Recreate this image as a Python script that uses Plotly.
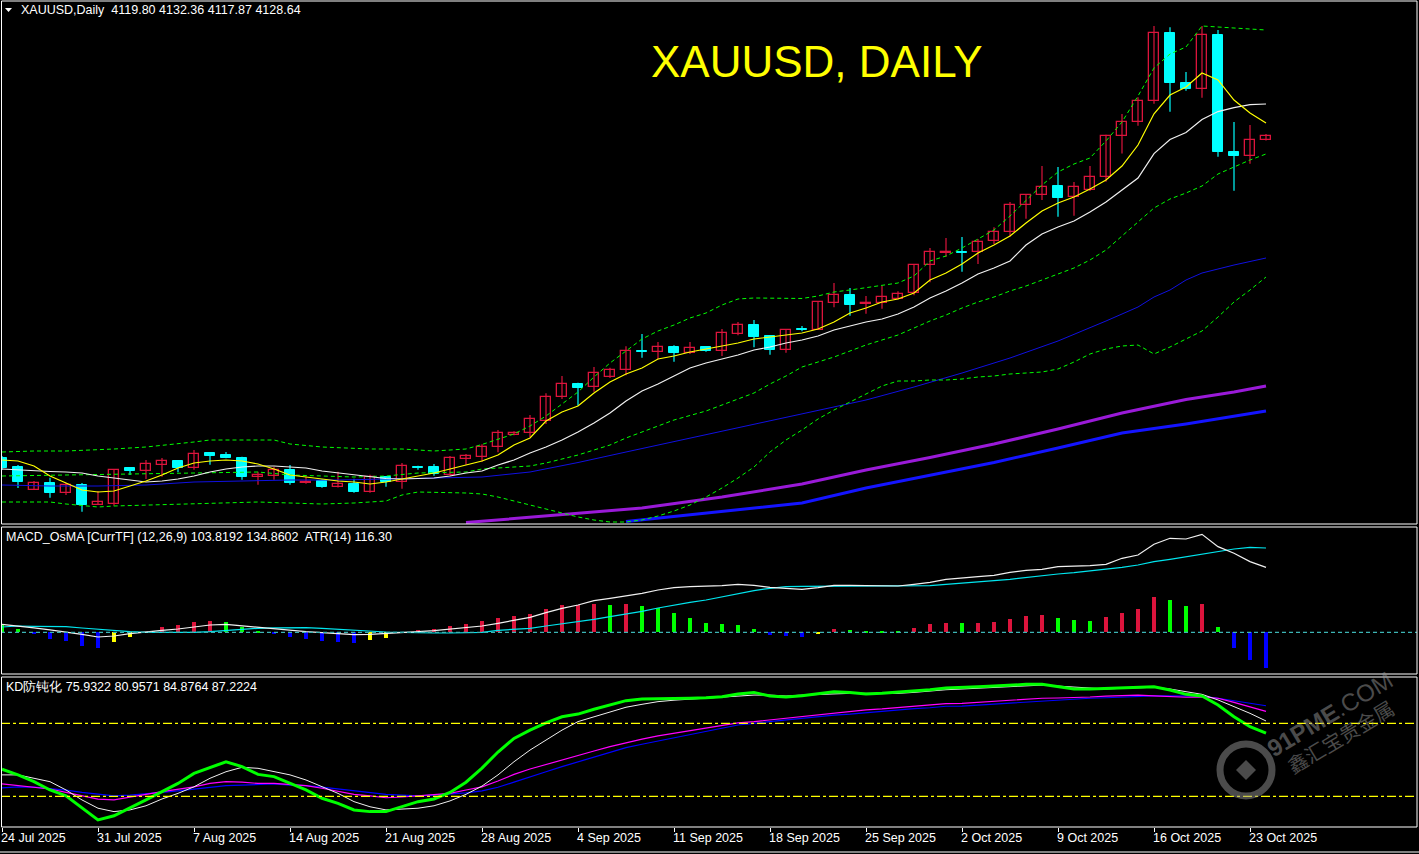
import plotly.graph_objects as go

# ---------------- DATA ----------------
tick_labels = ["24 Jul 2025", "31 Jul 2025", "7 Aug 2025", "14 Aug 2025", "21 Aug 2025",
               "28 Aug 2025", "4 Sep 2025", "11 Sep 2025", "18 Sep 2025", "25 Sep 2025",
               "2 Oct 2025", "9 Oct 2025", "16 Oct 2025", "23 Oct 2025"]
tick_bars = [0, 6, 12, 18, 24, 30, 36, 42, 48, 54, 60, 66, 72, 78]

opens = [3387.4, 3366.7, 3314.5, 3329.9, 3307.6, 3325.3, 3280.0, 3282.3, 3364.4, 3358.2,
         3372.0, 3380.5, 3365.1, 3398.9, 3394.3, 3387.4, 3344.4, 3346.7, 3360.5, 3330.6,
         3334.5, 3321.4, 3328.3, 3309.9, 3344.4, 3332.9, 3367.4, 3366.7, 3349.0, 3385.8,
         3390.4, 3412.0, 3441.0, 3444.2, 3473.2, 3527.0, 3556.9, 3550.0, 3574.4, 3589.1,
         3633.5, 3630.5, 3642.0, 3628.2, 3642.0, 3634.2, 3673.3, 3692.6, 3667.3, 3636.5,
         3684.1, 3682.5, 3744.6, 3762.3, 3740.9, 3743.2, 3753.8, 3766.2, 3830.6, 3859.6,
         3861.2, 3860.5, 3885.8, 3906.5, 3968.6, 3991.6, 4013.0, 3987.0, 4003.1, 4033.0,
         4127.3, 4159.5, 4207.8, 4364.2, 4249.2, 4235.4, 4361.0, 4090.5, 4082.7, 4119.80]
highs = [3392.0, 3371.3, 3334.5, 3342.1, 3329.9, 3329.9, 3311.5, 3359.8, 3366.7, 3382.8,
         3387.4, 3382.8, 3405.8, 3401.2, 3401.2, 3390.4, 3355.9, 3367.4, 3371.3, 3344.4,
         3338.0, 3355.9, 3339.8, 3349.0, 3346.0, 3375.9, 3369.7, 3373.6, 3392.0, 3396.6,
         3418.9, 3451.8, 3448.8, 3486.3, 3536.2, 3576.0, 3560.6, 3596.7, 3595.1, 3644.3,
         3672.6, 3654.2, 3646.6, 3654.2, 3644.3, 3684.1, 3700.2, 3704.8, 3670.3, 3684.1,
         3691.0, 3746.2, 3789.9, 3778.4, 3760.0, 3783.7, 3770.8, 3833.6, 3870.4, 3893.4,
         3895.7, 3891.1, 3918.0, 3976.2, 3994.6, 4059.0, 4056.7, 4022.2, 4059.0, 4131.0,
         4178.6, 4217.0, 4381.0, 4378.0, 4275.2, 4381.0, 4371.8, 4160.2, 4153.3, 4132.36]
lows = [3359.8, 3318.4, 3313.8, 3296.1, 3302.3, 3263.9, 3279.3, 3277.7, 3348.3, 3339.1,
        3344.4, 3354.5, 3360.5, 3372.0, 3386.7, 3337.5, 3326.0, 3337.5, 3326.0, 3328.3,
        3319.1, 3319.5, 3307.6, 3307.6, 3321.4, 3316.8, 3360.5, 3346.7, 3346.7, 3372.0,
        3378.9, 3400.5, 3439.6, 3435.0, 3465.6, 3523.1, 3507.7, 3539.9, 3571.4, 3577.6,
        3618.1, 3614.4, 3608.9, 3626.6, 3631.9, 3622.0, 3669.6, 3642.0, 3625.0, 3629.6,
        3678.8, 3681.8, 3734.0, 3714.7, 3719.3, 3730.8, 3752.4, 3761.6, 3791.5, 3850.4,
        3815.9, 3833.6, 3879.6, 3896.4, 3937.8, 3980.8, 3942.4, 3944.7, 4001.5, 4022.9,
        4087.8, 4151.7, 4202.3, 4183.9, 4232.2, 4216.1, 4080.4, 4002.2, 4064.3, 4117.87]
closes = [3364.4, 3332.2, 3329.9, 3307.6, 3324.6, 3279.3, 3286.2, 3359.1, 3358.2, 3373.6,
          3379.8, 3365.1, 3396.6, 3392.7, 3388.1, 3344.4, 3349.0, 3360.5, 3330.6, 3332.9,
          3321.4, 3328.3, 3309.9, 3343.0, 3332.9, 3369.0, 3365.1, 3351.3, 3386.7, 3392.0,
          3412.0, 3444.2, 3444.9, 3476.4, 3527.7, 3556.9, 3549.1, 3582.2, 3589.1, 3632.8,
          3630.5, 3642.0, 3628.2, 3639.7, 3634.2, 3674.2, 3692.6, 3666.4, 3636.5, 3681.1,
          3681.8, 3745.5, 3762.3, 3739.3, 3743.9, 3757.0, 3764.6, 3831.3, 3860.5, 3861.9,
          3859.6, 3883.5, 3906.5, 3968.6, 3991.6, 4010.0, 3986.1, 4010.0, 4033.0, 4127.3,
          4159.5, 4207.8, 4364.2, 4250.6, 4236.8, 4359.6, 4091.9, 4082.7, 4118.1, 4128.64]

ma_fast = [3382.8, 3380.5, 3369.0, 3346.0, 3329.9, 3313.8, 3309.2, 3311.5, 3323.0, 3334.5,
           3348.3, 3364.4, 3375.9, 3380.5, 3382.8, 3380.5, 3373.6, 3362.1, 3348.3, 3343.7,
           3339.1, 3334.5, 3332.2, 3327.6, 3332.2, 3339.1, 3346.0, 3352.9, 3362.1, 3371.3,
           3380.5, 3394.3, 3417.3, 3433.4, 3472.5, 3493.2, 3507.0, 3536.9, 3562.2, 3580.6,
           3594.4, 3615.1, 3622.0, 3631.2, 3638.1, 3645.0, 3651.9, 3661.1, 3665.7, 3670.3,
           3674.9, 3684.1, 3700.2, 3720.9, 3732.4, 3746.2, 3753.1, 3766.9, 3796.8, 3812.9,
           3833.6, 3858.9, 3877.3, 3898.0, 3927.9, 3955.5, 3973.9, 3987.7, 4006.1, 4026.8,
           4059.0, 4107.3, 4179.0, 4222.3, 4240.7, 4272.9, 4256.8, 4210.8, 4180.9, 4157.9]
ma_slow = [3362.1, 3359.8, 3357.5, 3356.4, 3355.2, 3352.9, 3346.0, 3341.4, 3336.8, 3332.2,
           3334.5, 3339.1, 3346.0, 3355.2, 3362.1, 3366.7, 3369.0, 3369.0, 3366.7, 3364.4,
           3357.5, 3352.9, 3348.3, 3343.7, 3340.3, 3339.1, 3340.3, 3341.4, 3346.0, 3352.9,
           3357.5, 3371.3, 3382.8, 3398.9, 3412.7, 3428.8, 3447.2, 3467.9, 3490.9, 3518.5,
           3541.5, 3557.6, 3576.0, 3594.4, 3605.9, 3615.1, 3624.3, 3635.8, 3642.7, 3651.9,
           3658.8, 3668.0, 3681.8, 3691.0, 3700.2, 3707.1, 3718.6, 3734.7, 3755.4, 3771.5,
           3789.9, 3810.6, 3824.4, 3840.5, 3877.3, 3902.6, 3918.7, 3932.5, 3953.2, 3976.2,
           4003.8, 4031.4, 4087.6, 4119.8, 4135.9, 4165.8, 4184.2, 4193.4, 4200.3, 4201.6]

ma_mid_bars = [0, 3, 6, 9, 12, 15, 18, 21, 24, 27, 30, 33, 36, 39, 42, 45, 48, 51, 54, 57,
               60, 63, 66, 69, 71, 72, 73, 74, 75, 77, 79]
ma_mid = [3325.3, 3323.0, 3323.0, 3325.3, 3332.2, 3334.5, 3336.8, 3336.8, 3339.1, 3341.4,
          3343.7, 3355.2, 3377.0, 3401.2, 3425.4, 3449.5, 3472.5, 3496.6, 3520.8, 3550.7,
          3582.9, 3617.4, 3656.5, 3702.5, 3734.7, 3757.7, 3773.8, 3796.8, 3812.9, 3831.3, 3847.4]

ma_long1_bars = [29, 35, 40, 45, 50, 54, 58, 62, 66, 70, 74, 77, 79]
ma_long1 = [3239.0, 3256.3, 3272.4, 3297.7, 3327.6, 3359.8, 3388.6, 3419.6, 3454.1, 3490.9,
            3521.9, 3539.2, 3553.0]
ma_long2_bars = [39, 45, 50, 54, 58, 62, 66, 70, 74, 79]
ma_long2 = [3241.4, 3265.5, 3283.9, 3318.4, 3347.1, 3377.0, 3410.4, 3444.9, 3465.6, 3495.5]

bb_up_bars = [0, 2, 4, 6, 7, 9, 11, 12, 13, 17, 18, 20, 23, 25, 27, 29] + list(range(30, 80))
bb_up = [3401.2, 3403.5, 3403.5, 3405.8, 3408.1, 3412.7, 3419.6, 3424.2, 3428.8, 3428.8,
         3419.6, 3412.7, 3408.1, 3408.1, 3403.5, 3408.1,
         3418.5, 3431.1, 3442.6, 3461.0, 3484.0, 3511.6, 3539.2, 3573.7, 3605.9, 3633.5,
         3661.1, 3679.5, 3693.3, 3709.4, 3720.9, 3739.3, 3753.1, 3755.4, 3755.4, 3755.4,
         3754.3, 3760.0, 3769.2, 3773.8, 3779.5, 3785.3, 3789.9, 3806.0, 3840.5, 3852.0,
         3870.4, 3891.1, 3911.8, 3944.0, 3980.8, 4015.3, 4045.2, 4063.6, 4077.4, 4116.5,
         4160.2, 4220.0, 4284.4, 4316.6, 4332.7, 4381.0, 4378.7, 4376.4, 4374.1, 4371.8]
bb_mid_bars = [0, 4, 10, 16, 18, 22, 24, 26, 29, 30, 33, 34, 36, 38, 39, 41, 42, 44] + list(range(45, 80))
bb_mid = [3346.0, 3348.3, 3352.9, 3355.2, 3348.3, 3343.7, 3346.0, 3352.9, 3355.2, 3362.1,
          3369.0, 3375.9, 3394.3, 3417.3, 3433.4, 3461.0, 3474.8, 3495.5,
          3509.3, 3523.1, 3536.9, 3557.6, 3576.0, 3596.7, 3608.2, 3619.7, 3633.5, 3647.3,
          3658.8, 3670.3, 3686.4, 3702.5, 3716.3, 3732.4, 3746.2, 3757.7, 3771.5, 3783.0,
          3796.8, 3810.6, 3824.4, 3842.8, 3865.8, 3898.0, 3930.2, 3962.4, 3983.1, 3996.9,
          4013.0, 4040.6, 4056.7, 4072.8, 4086.6]
bb_lo_bars = [0, 3, 4, 6, 7, 9, 12, 16, 18, 20, 22, 24, 25, 26, 29] + list(range(30, 80))
bb_lo = [3286.2, 3286.2, 3281.6, 3274.7, 3277.0, 3279.3, 3281.6, 3286.2, 3283.9, 3281.6,
         3283.9, 3288.5, 3302.3, 3309.2, 3306.9,
         3304.6, 3297.7, 3288.5, 3279.3, 3270.1, 3260.9, 3251.7, 3244.8, 3240.2, 3240.2,
         3244.8, 3254.0, 3265.5, 3279.3, 3297.7, 3318.4, 3341.4, 3366.7, 3401.2, 3428.8,
         3451.8, 3477.1, 3497.8, 3516.2, 3534.6, 3553.0, 3564.5, 3564.5, 3566.8, 3566.8,
         3569.1, 3573.7, 3576.0, 3580.6, 3582.9, 3585.2, 3592.1, 3608.2, 3626.6, 3638.1,
         3645.0, 3647.3, 3626.6, 3642.7, 3661.1, 3679.5, 3711.7, 3746.2, 3773.8, 3803.7]

osma = [12.8, 5.3, -3.2, -10.1, -13.3, -21.9, -25.1, -15.5, -7.5, 0.5,
        8.5, 11.7, 16.5, 18.1, 16.5, 9.1, 2.7, -2.1, -6.9, -10.1,
        -13.3, -15.5, -16.5, -11.7, -8.5, -0.8, 3.7, 5.3, 10.1, 13.3,
        18.1, 22.9, 26.1, 29.3, 37.3, 43.7, 44.0, 45.3, 43.7, 45.3,
        42.1, 38.9, 30.9, 22.9, 14.9, 13.3, 11.7, 5.3, -4.3, -5.9,
        -7.5, -2.7, 5.3, 3.7, 2.1, 2.0, 1.9, 6.9, 13.3, 14.9,
        14.7, 14.9, 16.5, 21.3, 26.1, 27.7, 22.9, 19.7, 18.1, 24.5,
        30.9, 37.3, 56.5, 51.7, 42.1, 45.3, 8.5, -25.1, -44.3, -57.1]
macd_main = [12.8, 10.4, 7.2, 4.0, 0.8, -3.2, -7.5, -5.9, -2.1, 1.1,
             3.2, 5.3, 8.5, 11.7, 12.8, 10.4, 8.0, 5.3, 3.2, 1.1,
             -0.5, -2.1, -3.7, -3.2, -2.1, -0.8, 1.1, 2.7, 4.8, 7.5,
             10.1, 14.4, 19.7, 24.0, 31.5, 38.4, 43.7, 50.7, 54.4, 58.1,
             62.4, 67.7, 71.5, 73.1, 73.6, 74.7, 76.8, 75.2, 72.0, 70.4,
             68.8, 71.5, 75.2, 75.2, 75.2, 74.1, 74.1, 76.8, 80.0, 84.8,
             87.5, 89.1, 91.2, 96.0, 99.2, 100.8, 105.1, 105.6, 106.7, 108.8,
             118.4, 123.7, 140.8, 150.4, 149.3, 156.8, 137.1, 126.4, 113.1, 103.8192]
macd_signal = [8.5, 10.1, 9.6, 9.1, 9.1, 6.9, 4.8, 2.7, 1.1, 0.0,
               -0.3, -0.5, 0.0, 1.1, 3.2, 4.8, 6.4, 7.2, 7.5, 7.5,
               6.4, 4.8, 3.2, 1.6, 0.5, 0.0, -1.1, -1.1, -1.1, -0.5,
               0.0, 3.2, 4.8, 6.4, 10.1, 13.3, 17.6, 20.8, 25.1, 29.3,
               33.6, 38.9, 43.7, 48.0, 51.7, 57.1, 61.3, 66.7, 70.4, 73.1,
               73.6, 73.6, 73.6, 73.6, 73.6, 73.6, 73.6, 73.6, 74.7, 76.8,
               78.4, 81.1, 82.7, 84.8, 88.0, 90.7, 93.3, 95.5, 98.1, 100.8,
               104.0, 107.7, 113.1, 116.8, 121.1, 125.3, 130.1, 133.3, 136.0, 134.8602]

kd_k = [61.1, 58.8, 56.0, 52.6, 50.2, 45.1, 40.3, 42.0, 45.1, 48.5,
        51.9, 55.3, 59.4, 61.8, 64.2, 62.2, 59.0, 58.1, 55.3, 52.6,
        49.2, 47.1, 44.4, 43.7, 43.7, 45.7, 47.8, 48.9, 51.6, 55.8,
        61.6, 68.2, 73.8, 77.2, 80.2, 82.7, 83.8, 85.8, 87.5, 89.3,
        90.0, 90.0, 90.0, 90.3, 90.5, 90.9, 92.0, 92.7, 91.2, 90.8,
        91.3, 92.3, 93.0, 92.7, 92.0, 92.3, 92.7, 93.4, 93.8, 94.5,
        94.6, 95.0, 95.3, 95.7, 96.0, 96.0, 95.0, 94.1, 94.1, 94.4,
        94.6, 94.8, 95.0, 93.7, 91.9, 91.2, 87.5, 82.7, 78.6, 75.9322]
kd_d = [58.8, 58.8, 57.4, 56.0, 52.6, 48.5, 45.1, 43.7, 44.4, 46.1,
        48.9, 51.2, 53.9, 57.4, 60.1, 61.9, 61.5, 60.1, 58.8, 56.7,
        53.9, 51.2, 47.8, 45.7, 44.4, 44.7, 45.1, 46.1, 48.1, 50.8,
        54.2, 58.8, 64.2, 69.0, 73.1, 77.2, 80.7, 82.7, 84.8, 86.6,
        87.8, 88.9, 89.5, 89.9, 90.3, 90.8, 91.3, 91.6, 91.6, 91.2,
        91.6, 91.9, 92.3, 92.3, 92.3, 92.3, 92.3, 92.7, 93.3, 93.8,
        94.1, 94.4, 94.6, 95.0, 95.5, 95.7, 95.3, 94.8, 94.4, 94.1,
        94.4, 94.6, 94.8, 94.1, 93.0, 91.9, 89.6, 86.8, 84.1, 80.9571]
kd_s1 = [55.1, 54.4, 53.9, 53.0, 51.6, 50.2, 48.8, 48.5, 49.8, 50.8,
         51.9, 52.9, 53.9, 55.3, 56.0, 55.8, 55.3, 55.3, 54.9, 54.4,
         53.3, 52.2, 50.8, 50.2, 49.4, 49.7, 50.2, 50.5, 51.2, 52.6,
         53.9, 56.3, 59.0, 61.2, 63.1, 64.9, 67.0, 68.6, 70.4, 72.0,
         73.5, 74.8, 75.9, 77.2, 78.2, 79.3, 80.2, 80.7, 81.4, 82.1,
         82.7, 83.7, 84.4, 84.8, 85.5, 85.9, 86.4, 87.0, 87.5, 88.1,
         88.2, 88.6, 89.2, 89.6, 90.0, 90.3, 90.4, 90.5, 90.8, 91.2,
         91.3, 91.6, 91.3, 90.9, 90.7, 90.9, 90.3, 88.6, 86.8, 84.8764]
kd_s2 = [53.5, 53.9, 53.8, 53.3, 52.5, 51.6, 50.8, 50.2, 50.5, 51.2,
         51.6, 52.2, 53.0, 53.7, 54.4, 54.6, 54.9, 55.1, 54.6, 54.4,
         53.8, 53.0, 52.2, 51.6, 50.8, 50.5, 50.2, 50.5, 50.8, 51.4,
         52.2, 53.7, 55.8, 58.1, 60.1, 62.2, 64.2, 66.3, 68.3, 70.0,
         71.4, 72.7, 74.1, 75.5, 76.8, 78.2, 79.3, 80.0, 80.7, 81.4,
         82.1, 82.7, 83.4, 83.8, 84.4, 84.9, 85.5, 86.0, 86.4, 87.0,
         87.1, 87.5, 88.1, 88.5, 88.9, 89.3, 89.6, 90.0, 90.3, 90.5,
         90.8, 91.1, 91.3, 91.3, 91.3, 91.2, 90.3, 89.3, 88.5, 87.2224]
kd_levels = [80, 50]

header_main = "XAUUSD,Daily  4119.80 4132.36 4117.87 4128.64"
header_macd = "MACD_OsMA [CurrTF] (12,26,9) 103.8192 134.8602  ATR(14) 116.30"
header_kd = "KD防钝化 75.9322 80.9571 84.8764 87.2224"
title_text = "XAUUSD, DAILY"
watermark_en = "<b>91PME</b>.COM"
watermark_cn = "鑫汇宝贵金属"

# ---------------- LAYOUT HELPERS ----------------
W, H = 1419, 854
def px(x):
    return x / W
def py(y):
    return 1 - y / H

bars = list(range(len(closes)))
XR = [-0.0625, 88.4375]
FONT = "Liberation Sans, Arial, sans-serif"
TXT = 12.5

fig = go.Figure()

def line(xs, ys, color, width=1, dash=None, axis=("x", "y")):
    fig.add_trace(go.Scatter(x=xs, y=ys, mode="lines", xaxis=axis[0], yaxis=axis[1],
                             line=dict(color=color, width=width, dash=dash),
                             hoverinfo="skip", showlegend=False))

# candles: wicks
up = [i for i in bars if closes[i] >= opens[i]]
dn = [i for i in bars if closes[i] < opens[i]]
for idx, col in ((up, "#DC143C"), (dn, "#00FFFF")):
    wx, wy = [], []
    for i in idx:
        wx += [i, i, None]
        wy += [lows[i], highs[i], None]
    line(wx, wy, col, 1.2)

# bodies
fig.add_trace(go.Bar(x=up, base=[opens[i] for i in up], y=[closes[i] - opens[i] for i in up],
                     width=0.62, marker=dict(color="#000000", line=dict(color="#DC143C", width=1.3)),
                     xaxis="x", yaxis="y", hoverinfo="skip", showlegend=False))
fig.add_trace(go.Bar(x=dn, base=[closes[i] for i in dn], y=[opens[i] - closes[i] for i in dn],
                     width=0.62, marker=dict(color="#00FFFF", line=dict(color="#00FFFF", width=1)),
                     xaxis="x", yaxis="y", hoverinfo="skip", showlegend=False))

line(ma_long2_bars, ma_long2, "#1414FF", 3)
line(ma_long1_bars, ma_long1, "#9A1AD8", 3)
line(ma_mid_bars, ma_mid, "#1010E0", 1)
bbdash = "4px,3px"
line(bb_up_bars, bb_up, "#00FF00", 1, bbdash)
line(bb_mid_bars, bb_mid, "#00FF00", 1, bbdash)
line(bb_lo_bars, bb_lo, "#00FF00", 1, bbdash)
line(bars, ma_slow, "#F0F0F0", 1.2)
line(bars, ma_fast, "#FFFF00", 1.2)

# ---- MACD panel ----
hist_colors = []
for i, v in enumerate(osma):
    prev = osma[i - 1] if i > 0 else v + 1
    if v >= 0:
        hist_colors.append("#DC143C" if v >= prev else "#00FF00")
    else:
        hist_colors.append("#0000FF" if v < prev else "#FFFF00")
fig.add_trace(go.Bar(x=bars, y=osma, width=0.31, marker=dict(color=hist_colors, line=dict(width=0)),
                     xaxis="x2", yaxis="y2", hoverinfo="skip", showlegend=False))
line(bars, macd_signal, "#00E5EE", 1.2, axis=("x2", "y2"))
line(bars, macd_main, "#F0F0F0", 1.2, axis=("x2", "y2"))

# ---- KD panel ----
line(bars, kd_s2, "#0000FF", 1.2, axis=("x3", "y3"))
line(bars, kd_s1, "#FF00FF", 1.2, axis=("x3", "y3"))
line(bars, kd_d, "#F0F0F0", 1, axis=("x3", "y3"))
line(bars, kd_k, "#00FF00", 3, axis=("x3", "y3"))

shapes = []
for lv in kd_levels:
    shapes.append(dict(type="line", xref="paper", yref="y3", x0=px(1), x1=px(1417), y0=lv, y1=lv,
                       line=dict(color="#FFFF00", width=1.3, dash="9px,3px,3px,3px")))
shapes.append(dict(type="line", xref="paper", yref="y2", x0=px(1), x1=px(1417), y0=0, y1=0,
                   line=dict(color="#3CB4B4", width=1.2, dash="4px,3px")))
for (t, b) in ((1, 524), (527, 674), (677, 827)):
    shapes.append(dict(type="rect", xref="paper", yref="paper", x0=px(1.5), x1=px(1417),
                       y0=py(b), y1=py(t), line=dict(color="#FFFFFF", width=1)))
shapes.append(dict(type="line", xref="paper", yref="paper", x0=0, x1=1, y0=py(852), y1=py(852),
                   line=dict(color="#FFFFFF", width=1)))
shapes.append(dict(type="path", xref="paper", yref="paper",
                   path=f"M {px(5)} {py(8)} L {px(12)} {py(8)} L {px(8.5)} {py(12)} Z",
                   fillcolor="#FFFFFF", line=dict(width=0)))
# watermark logo
WM = "rgba(150,150,150,0.5)"
shapes.append(dict(type="circle", xref="paper", yref="paper", x0=px(1220), x1=px(1272),
                   y0=py(796), y1=py(744), line=dict(color=WM, width=7)))
shapes.append(dict(type="path", xref="paper", yref="paper",
                   path=f"M {px(1246)} {py(760)} L {px(1256)} {py(770)} L {px(1246)} {py(780)} L {px(1236)} {py(770)} Z",
                   fillcolor=WM, line=dict(width=0)))

annotations = []
def note(x, y, text, size=TXT, color="#FFFFFF", family=FONT, xanchor="left", xref="paper", angle=0, xshift=0):
    annotations.append(dict(xref=xref, yref="paper", x=x, y=y, xanchor=xanchor, yanchor="middle",
                            text=text, showarrow=False, textangle=angle, xshift=xshift,
                            font=dict(family=family, size=size, color=color)))

note(px(19), py(10), header_main)
note(px(4), py(537), header_macd)
note(px(4), py(687), header_kd)
note(px(817), py(62), title_text, size=44, color="#FFFF00", xanchor="center")
for b, lab in zip(tick_bars, tick_labels):
    note(b, py(838), lab, xref="x3", xshift=-3)
note(px(1329), py(714), watermark_en, size=24, color=WM, xanchor="center", angle=-31)
note(px(1340), py(736), watermark_cn, size=20, color=WM, xanchor="center", angle=-31,
     family="Noto Sans CJK SC, sans-serif")

xdom = [px(1), px(1417)]
hidden = dict(showgrid=False, zeroline=False, showticklabels=False, showline=False, ticks="")
fig.update_layout(
    width=W, height=H, autosize=False,
    margin=dict(l=0, r=0, t=0, b=0),
    paper_bgcolor="#000000", plot_bgcolor="#000000",
    barmode="overlay", bargap=0, showlegend=False,
    xaxis=dict(domain=xdom, range=XR, anchor="y", **hidden),
    yaxis=dict(domain=[py(524), py(2)], range=[3235.6, 4436.2], anchor="x", **hidden),
    xaxis2=dict(domain=xdom, range=XR, anchor="y2", **hidden),
    yaxis2=dict(domain=[py(674), py(527)], range=[-66.7, 168.5], anchor="x2", **hidden),
    xaxis3=dict(domain=xdom, range=XR, anchor="y3", showgrid=False, zeroline=False,
                showticklabels=False, showline=False, ticks="outside", ticklen=4,
                tickcolor="#FFFFFF", tickwidth=1, tickvals=tick_bars),
    yaxis3=dict(domain=[py(827), py(677)], range=[37.38, 99.03], anchor="x3", **hidden),
    shapes=shapes, annotations=annotations,
    hovermode=False,
)

fig.write_html("out.html", config={"displayModeBar": False},
               post_script="document.body.style.margin='0';document.body.style.background='#000';")
